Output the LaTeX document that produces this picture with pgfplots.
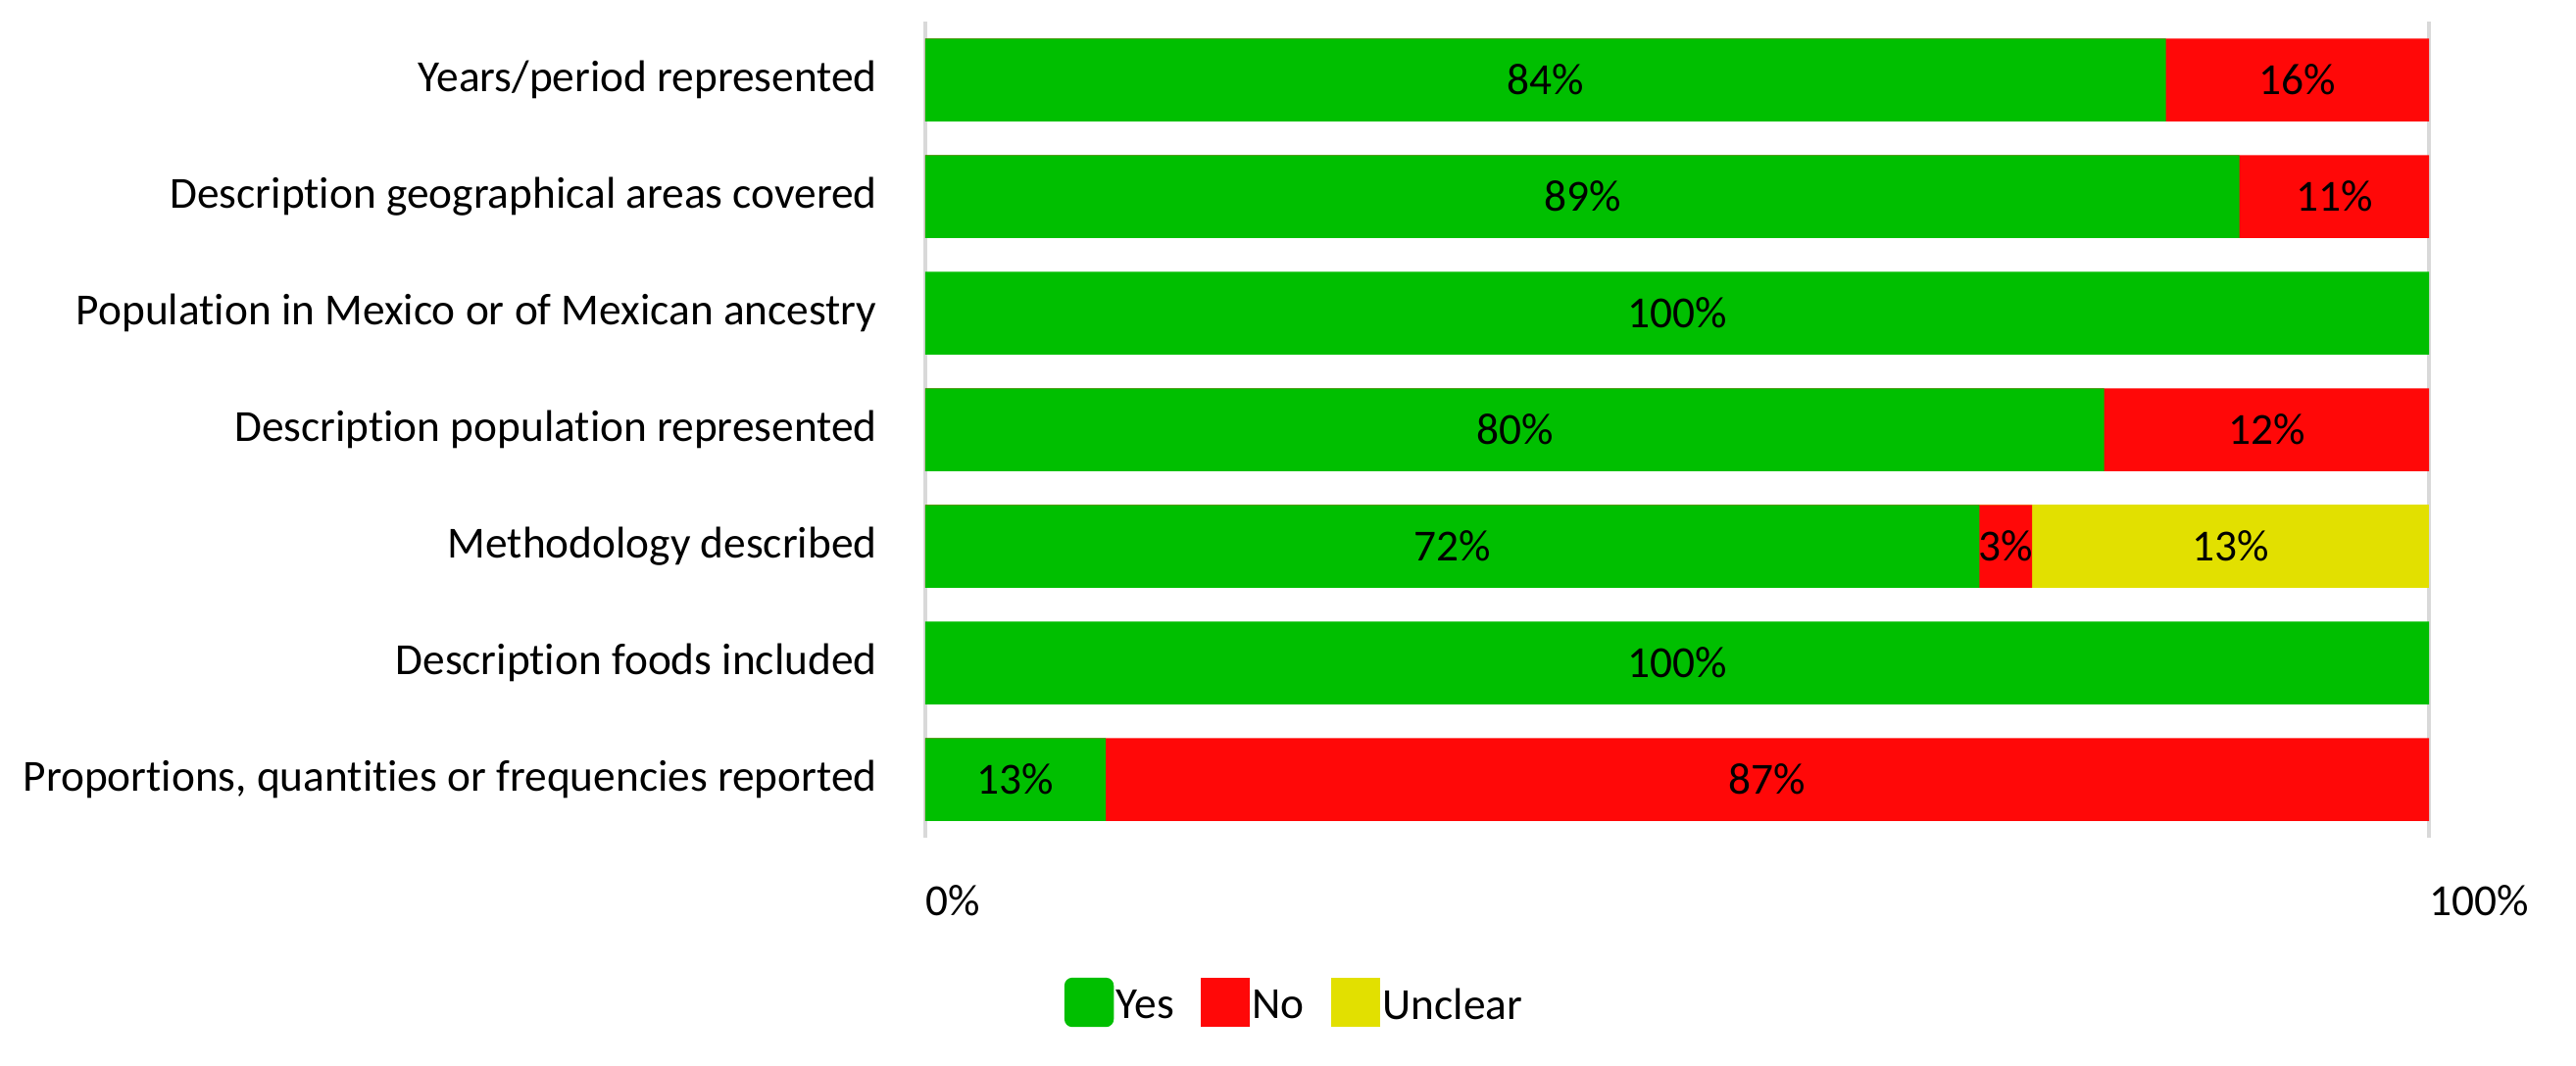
\documentclass[border=0pt]{standalone}
\usepackage{fontspec}
\setmainfont{Carlito}[Ligatures={NoCommon}]
\usepackage{pgfplots}
\pgfplotsset{compat=1.18}
\usepackage{pgfplotstable}
\definecolor{cyes}{RGB}{0,191,0}
\definecolor{cno}{RGB}{255,8,8}
\definecolor{cunc}{RGB}{226,224,0}
\definecolor{cgrid}{RGB}{217,217,217}

% widths of the segments as drawn (percent of bar), and printed labels
\pgfplotstableread{
y yes no unc ylab nlab ulab
0 82.5 17.5 0 84 16 0
1 87.4 12.6 0 89 11 0
2 100 0 0 100 0 0
3 78.4 21.6 0 80 12 0
4 70.1 3.5 26.4 72 3 13
5 100 0 0 100 0 0
6 12.0 88.0 0 13 87 0
}\datatable

\begin{document}
\begin{tikzpicture}[font=\fontsize{13.6}{16}\selectfont]
\useasboundingbox (-283.2pt,-69.6pt) rectangle (505.2pt,256.5pt);
\begin{axis}[
  at={(0pt,0pt)}, anchor=south west,
  scale only axis, width=460.2pt, height=249.9pt,
  xmin=0, xmax=100, ymin=-0.5, ymax=6.5, y dir=reverse,
  clip=false,
  axis line style={draw=none}, major tick style={draw=none},
  xtick={0,100}, xticklabels={0\%,100\%},
  xticklabel style={anchor=north west, inner sep=0pt, yshift=-14.4pt},
  ytick={0,1,2,3,4,5,6},
  yticklabels={Years/period represented, Description geographical areas covered, Population in Mexico or of Mexican ancestry, Description population represented, Methodology described, Description foods included, {Proportions, quantities or frequencies reported}},
  yticklabel style={anchor=east, inner sep=0pt, xshift=-14.6pt},
  xmajorgrids, grid style={cgrid, line width=1.2pt},
  bar width=0.71,
  legend columns=-1,
  legend entries={Yes,No,Unclear},
  legend style={at={(0.2448,-0.2017)}, anchor=center, draw=none, fill=none,
    inner sep=0pt, nodes={inner sep=0pt},
    /tikz/every odd column/.append style={column sep=0.8pt},
    /tikz/every even column/.append style={column sep=8pt}},
]
\addlegendimage{legend image code/.code={\fill[cyes, rounded corners=2.2pt] (0pt,-6pt) rectangle (14.7pt,8.7pt);}}
\addlegendimage{legend image code/.code={\fill[cno] (0pt,-6pt) rectangle (14.7pt,8.7pt);}}
\addlegendimage{legend image code/.code={\fill[cunc] (0pt,-6pt) rectangle (14.7pt,8.7pt);}}

\addplot[xbar, bar shift=0pt, fill=cunc, draw=none, forget plot,
  restrict expr to domain={\thisrow{unc}}{0.01:1000}]
  table[y=y, x expr=\thisrow{yes}+\thisrow{no}+\thisrow{unc}] {\datatable};
\addplot[xbar, bar shift=0pt, fill=cno, draw=none, forget plot,
  restrict expr to domain={\thisrow{no}}{0.01:1000}]
  table[y=y, x expr=\thisrow{yes}+\thisrow{no}] {\datatable};
\addplot[xbar, bar shift=0pt, fill=cyes, draw=none, forget plot]
  table[y=y, x=yes] {\datatable};

\addplot[only marks, mark=none, forget plot, point meta=explicit symbolic,
  nodes near coords={\pgfplotspointmeta\%},
  every node near coord/.append style={anchor=center, inner sep=0pt, text=black}]
  table[y=y, x expr=\thisrow{yes}/2, meta=ylab] {\datatable};
\addplot[only marks, mark=none, forget plot, point meta=explicit symbolic,
  restrict expr to domain={\thisrow{no}}{0.01:1000},
  nodes near coords={\pgfplotspointmeta\%},
  every node near coord/.append style={anchor=center, inner sep=0pt, text=black}]
  table[y=y, x expr=\thisrow{yes}+\thisrow{no}/2, meta=nlab] {\datatable};
\addplot[only marks, mark=none, forget plot, point meta=explicit symbolic,
  restrict expr to domain={\thisrow{unc}}{0.01:1000},
  nodes near coords={\pgfplotspointmeta\%},
  every node near coord/.append style={anchor=center, inner sep=0pt, text=black}]
  table[y=y, x expr=\thisrow{yes}+\thisrow{no}+\thisrow{unc}/2, meta=ulab] {\datatable};
\end{axis}
\end{tikzpicture}
\end{document}
